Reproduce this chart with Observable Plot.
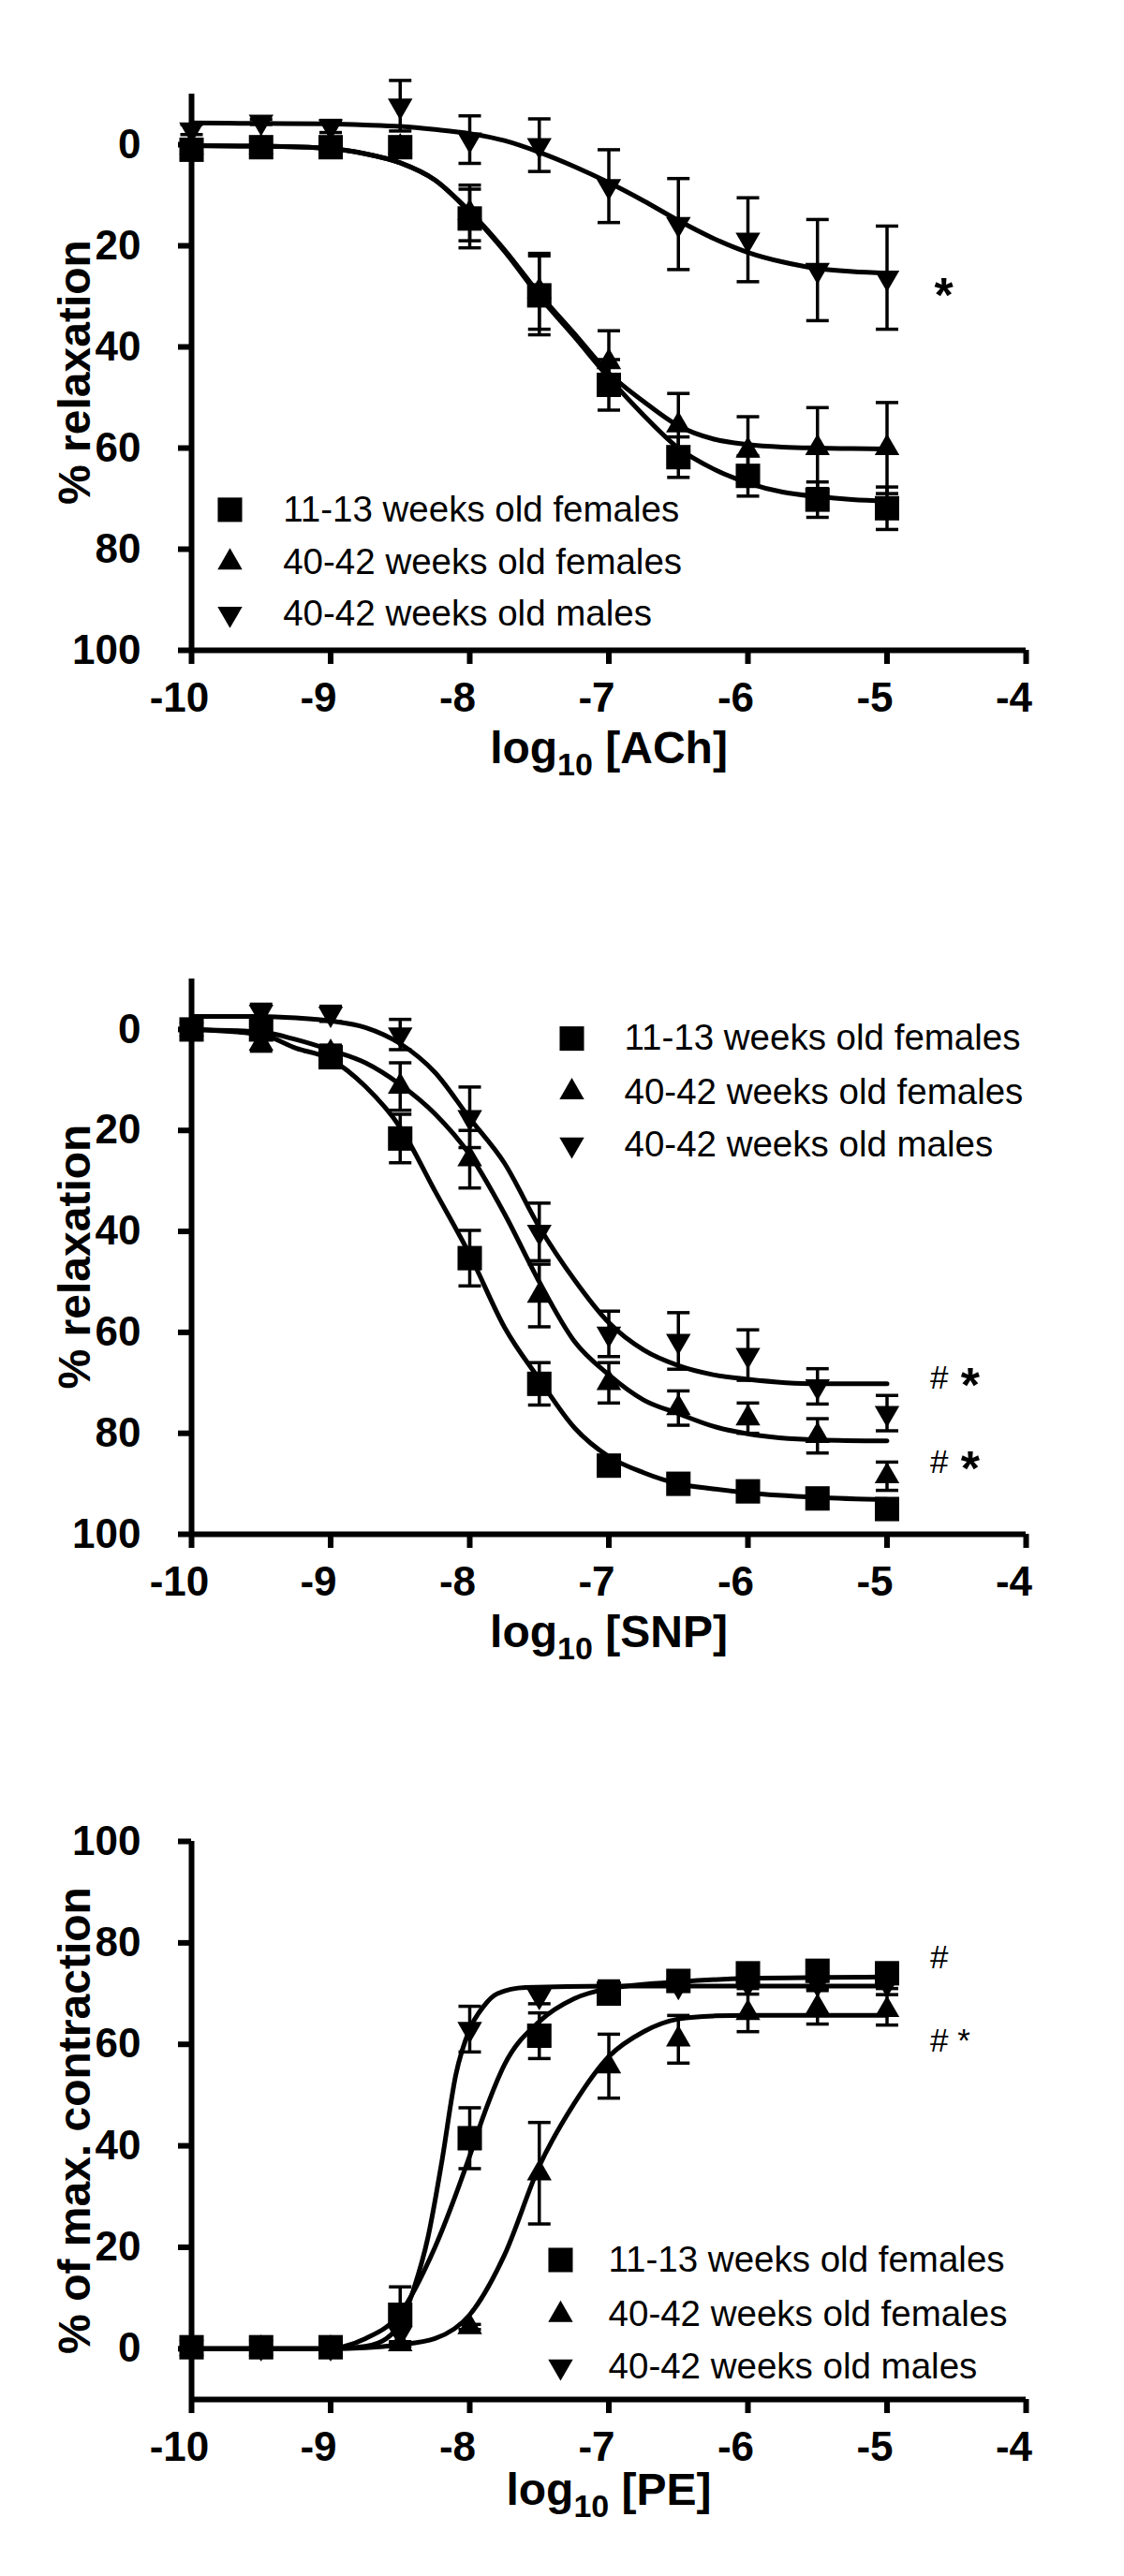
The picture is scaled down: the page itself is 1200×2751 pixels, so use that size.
<!DOCTYPE html>
<html><head><meta charset="utf-8">
<script src="https://cdn.jsdelivr.net/npm/d3@7"></script>
<script src="https://cdn.jsdelivr.net/npm/@observablehq/plot@0.6"></script>
<style>
html,body{margin:0;padding:0;background:#fff;}
#chart svg{display:block;}
</style>
</head><body><div id="chart"></div>
<script>
// ---------- shared ----------
const logConc = [-10, -9.5, -9, -8.5, -8, -7.5, -7, -6.5, -6, -5.5, -5];
const groups = ["11-13 weeks old females", "40-42 weeks old females", "40-42 weeks old males"];
const xTicks = [-10, -9, -8, -7, -6, -5, -4];
const yTicks = [0, 20, 40, 60, 80, 100];

// ---------- ACh (relaxation) ----------
const achYoungFemMean = [1, 0.5, 0.5, 0.5, 14.6, 29.8, 47.5, 61.8, 65.5, 70.2, 71.9];
const achYoungFemSem  = [0.5, 0.5, 0.5, 1, 5.8, 7.8, 5, 4, 4, 3.5, 4.2];
const achOldFemMean   = [0.5, 0.5, 0.5, 0.5, 13.5, 29, 43, 55.5, 60.5, 60, 60];
const achOldFemSem    = [0.5, 0.5, 0.5, 0.5, 5.5, 7.5, 6.2, 6.3, 6.7, 8, 9];
const achOldMaleMean  = [-3, -4.5, -3.6, -7.7, -1, 0.1, 8.2, 15.7, 18.8, 24.8, 26.3];
const achOldMaleSem   = [1, 0.5, 1.2, 5, 4.7, 5.2, 7.2, 9, 8.3, 10, 10.2];
const achFitX         = [-10, -9.5, -9, -8.75, -8.5, -8.25, -8, -7.75, -7.5, -7.25, -7, -6.75, -6.5, -6.25, -6, -5.75, -5.5, -5.25, -5];
const achFitYoungFem  = [0.2, 0.3, 0.8, 1.8, 3.6, 7, 13.4, 21.1, 30, 37.9, 46.1, 53.5, 60, 64.1, 66.9, 68.7, 69.6, 70.2, 70.5];
const achFitOldFem    = [0.2, 0.3, 0.8, 1.8, 3.6, 7, 13.2, 20.8, 29.5, 37.3, 45.2, 50.8, 55.6, 58.2, 59.3, 59.8, 60, 60.1, 60.2];
const achFitOldMale   = [-4.3, -4.2, -4.1, -3.9, -3.6, -3.0, -2.2, -0.8, 1.5, 4.3, 7.5, 11.1, 15, 18.5, 21.3, 23.2, 24.5, 25.1, 25.4];

// ---------- SNP (relaxation) ----------
const snpYoungFemMean = [0, 0, 5.5, 21.6, 45.3, 70.2, 86.4, 90, 91.5, 92.9, 95];
const snpYoungFemSem  = [0.5, 0.5, 1, 4.8, 5.5, 4.2, 1.5, 1, 1, 1, 1];
const snpOldFemMean   = [0, 2.8, 4.6, 11.3, 25.7, 52.7, 70, 75, 77, 80.5, 88.5];
const snpOldFemSem    = [0.5, 1.5, 1.5, 4.7, 5.7, 6.2, 4, 3.4, 3, 3.4, 2.8];
const snpOldMaleMean  = [0, -3.5, -3.1, 1, 17.4, 40.1, 60.3, 61.7, 64.5, 70.7, 76];
const snpOldMaleSem   = [0.5, 1.5, 1.5, 3, 6, 5.7, 4.5, 5.6, 5, 3.5, 3.5];
const snpFitX         = [-10, -9.5, -9.25, -9, -8.75, -8.5, -8.25, -8, -7.75, -7.5, -7.25, -7, -6.75, -6.5, -6.25, -6, -5.5, -5];
const snpFitYoungFem  = [0, 1, 3.7, 5.9, 11.3, 19.4, 32, 44.6, 59, 69.3, 78.8, 84.6, 87.8, 90, 91, 91.8, 92.7, 93.1];
const snpFitOldFem    = [0, 0.5, 2, 4.1, 6.6, 10.9, 16.7, 24.8, 36.5, 50, 61.7, 68.4, 73.4, 76.1, 78.6, 80.1, 81.3, 81.5];
const snpFitOldMale   = [-2.6, -2.6, -2.3, -1.7, -0.4, 2.8, 8.5, 17.6, 26.5, 39.1, 49.5, 58.1, 63.5, 66.6, 68.4, 69.3, 70.2, 70.2];

// ---------- PE (contraction) ----------
const peYoungFemMean = [0.3, 0.3, 0.3, 6.7, 41.5, 61.7, 70, 72.5, 74, 74.5, 74];
const peYoungFemSem  = [0.5, 0.5, 0.5, 5.5, 6, 4.5, 1.5, 1.5, 1.5, 2, 2];
const peOldFemMean   = [0, 0, 0, 0.9, 4.3, 34.6, 55.7, 61, 66.2, 67.3, 66.8];
const peOldFemSem    = [0.5, 0.5, 0.5, 0.5, 0.5, 10, 6.3, 4.7, 3.7, 3.3, 3];
const peOldMaleMean  = [0.3, 0.3, 0.3, 3, 63, 69.5, 71, 71.5, 72, 72, 72];
const peOldMaleSem   = [0.5, 0.5, 0.5, 2, 4.5, 1.5, 1.5, 1, 1, 1, 1];
const peFitYoungFemX = [-10, -9, -8.9, -8.75, -8.5, -8.25, -8, -7.9, -7.75, -7.5, -7.25, -7, -6.5, -6, -5];
const peFitYoungFem  = [0, 0, 0.5, 2, 7, 20, 38, 46, 56, 64.5, 69, 71, 72.3, 73, 73.3];
const peFitOldFemX   = [-10, -9, -8.5, -8.25, -8, -7.75, -7.5, -7.25, -7, -6.75, -6.5, -6.25, -6, -5];
const peFitOldFem    = [0, 0, 0.8, 2, 6.7, 18.5, 36, 48.3, 57.6, 62.5, 65, 65.6, 65.7, 65.7];
const peFitOldMaleX  = [-10, -9, -8.75, -8.6, -8.5, -8.4, -8.3, -8.2, -8.1, -8, -7.9, -7.8, -7.6, -7, -5];
const peFitOldMale   = [0, 0, 0.5, 2, 5, 12, 22, 37, 54, 63, 67.5, 70, 71.2, 71.5, 71.5];

// ---------- helpers ----------
const pts = (mean, sem) => logConc.map((x, i) => ({x, m: mean[i], s: sem[i]}));
const fit = (xs, ys) => xs.map((x, i) => ({x, y: ys[i]}));
const capSymbol = {draw(ctx, size) { const h = Math.sqrt(size / Math.PI); ctx.moveTo(-h, 0); ctx.lineTo(h, 0); }};
const markerStyles = [
  {symbol: "square", r: 14.7},
  {symbol: "triangle", r: 9.8},
  {symbol: "triangle", r: 9.8, rotate: 180}
];
const FONT = "'Liberation Sans', Arial, Helvetica, sans-serif";

function makePanel(cfg) {
  const base = cfg.reverse ? 100 : -10;
  const marks = [];
  // fitted curves
  for (const f of cfg.fits) {
    marks.push(Plot.line(f, {x: "x", y: "y", curve: "monotone-x", stroke: "black", strokeWidth: 5}));
  }
  // error bars
  cfg.series.forEach((s) => {
    marks.push(Plot.ruleX(s, {x: "x", y1: d => d.m - d.s, y2: d => d.m + d.s, stroke: "black", strokeWidth: 3.5}));
    marks.push(Plot.dot(s, {x: "x", y: d => d.m + d.s, symbol: capSymbol, r: 12, stroke: "black", strokeWidth: 3.5, fill: "none"}));
    marks.push(Plot.dot(s, {x: "x", y: d => d.m - d.s, symbol: capSymbol, r: 12, stroke: "black", strokeWidth: 3.5, fill: "none"}));
  });
  // markers
  cfg.series.forEach((s, k) => {
    marks.push(Plot.dot(s, {x: "x", y: "m", fill: "black", ...markerStyles[k]}));
  });
  // legend
  groups.forEach((g, k) => {
    marks.push(Plot.dot([g], {x: cfg.legend.markerX, y: cfg.legend.rows[k], fill: "black", ...markerStyles[k]}));
  });
  marks.push(Plot.text(groups, {x: cfg.legend.textX, y: (d, i) => cfg.legend.rows[i], text: d => d,
    textAnchor: "start", fontSize: 38.5, fill: "black"}));
  // significance notes
  for (const n of cfg.notes) {
    marks.push(Plot.text([n.t], {x: n.x, y: n.y, text: d => d, textAnchor: "start", lineAnchor: "bottom",
      fontSize: n.size, fontWeight: n.bold ? "bold" : "normal", fill: "black"}));
  }
  // axes
  marks.push(Plot.ruleX([-10], {y1: -10, y2: 100, stroke: "black", strokeWidth: 6}));
  marks.push(Plot.ruleY([base], {x1: -10, x2: -4, stroke: "black", strokeWidth: 6}));
  marks.push(Plot.axisX(xTicks, {tickSize: 15, strokeWidth: 6, stroke: "black", fill: "none", label: null, tickFormat: d => String(d)}));
  marks.push(Plot.axisX(xTicks, {tickSize: 15, tickPadding: 19, stroke: "none", fill: "black", fontSize: 44, fontWeight: "bold", dx: -13, label: null, tickFormat: d => String(d)}));
  marks.push(Plot.axisY(yTicks, {tickSize: 14, tickPadding: 40, strokeWidth: 6, stroke: "black", fill: "black", fontSize: 44, fontWeight: "bold", label: null, tickFormat: d => String(d)}));
  // axis titles
  marks.push(Plot.text([cfg.yLabel], {frameAnchor: "left", text: d => d, rotate: -90, dx: -109, textAnchor: "middle", lineAnchor: "bottom",
    fontSize: 48, fontWeight: "bold", fill: "black"}));
  marks.push(Plot.text([cfg.xLabel], {frameAnchor: "bottom", text: d => d, dy: cfg.xTitleOffset, textAnchor: "middle", lineAnchor: "bottom",
    fontSize: 48, fontWeight: "bold", fill: "black"}));

  const svg = Plot.plot({
    width: 1200, height: cfg.height,
    marginLeft: 204, marginRight: 105, marginTop: cfg.marginTop, marginBottom: cfg.marginBottom,
    x: {domain: [-10, -4]},
    y: {domain: [-10, 100], reverse: cfg.reverse},
    style: {fontFamily: FONT, background: "white", color: "black", overflow: "visible"},
    marks
  });
  // subscript in "log10 [...]"
  svg.querySelectorAll("text").forEach(t => {
    const m = /^log10 (.*)$/.exec(t.textContent);
    if (!m) return;
    const NS = "http://www.w3.org/2000/svg";
    t.textContent = "";
    const a = document.createElementNS(NS, "tspan"); a.textContent = "log"; t.appendChild(a);
    const b = document.createElementNS(NS, "tspan"); b.textContent = "10"; b.setAttribute("font-size", "34"); b.setAttribute("dy", "13"); t.appendChild(b);
    const c = document.createElementNS(NS, "tspan"); c.textContent = " " + m[1]; c.setAttribute("dy", "-13"); t.appendChild(c);
  });
  return svg;
}

const panels = [
  {
    height: 920, marginTop: 100, marginBottom: 226, reverse: true, xTitleOffset: 120,
    yLabel: "% relaxation", xLabel: "log10 [ACh]",
    series: [pts(achYoungFemMean, achYoungFemSem), pts(achOldFemMean, achOldFemSem), pts(achOldMaleMean, achOldMaleSem)],
    fits: [fit(achFitX, achFitYoungFem), fit(achFitX, achFitOldFem), fit(achFitX, achFitOldMale)],
    legend: {markerX: -9.724, textX: -9.342, rows: [72.2, 82.6, 92.8]},
    notes: [{t: "*", x: -4.66, y: 33, size: 52, bold: true}]
  },
  {
    height: 920, marginTop: 125, marginBottom: 202, reverse: true, xTitleOffset: 120,
    yLabel: "% relaxation", xLabel: "log10 [SNP]",
    series: [pts(snpYoungFemMean, snpYoungFemSem), pts(snpOldFemMean, snpOldFemSem), pts(snpOldMaleMean, snpOldMaleSem)],
    fits: [fit(snpFitX, snpFitYoungFem), fit(snpFitX, snpFitOldFem), fit(snpFitX, snpFitOldMale)],
    legend: {markerX: -7.266, textX: -6.889, rows: [1.8, 12.4, 22.8]},
    notes: [
      {t: "#", x: -4.69, y: 71.2, size: 35, bold: false},
      {t: "*", x: -4.47, y: 73.8, size: 52, bold: true},
      {t: "#", x: -4.69, y: 87.8, size: 35, bold: false},
      {t: "*", x: -4.47, y: 90.2, size: 52, bold: true}
    ]
  },
  {
    height: 911, marginTop: 126, marginBottom: 189, reverse: false, xTitleOffset: 112,
    yLabel: "% of max. contraction", xLabel: "log10 [PE]",
    series: [pts(peYoungFemMean, peYoungFemSem), pts(peOldFemMean, peOldFemSem), pts(peOldMaleMean, peOldMaleSem)],
    fits: [fit(peFitYoungFemX, peFitYoungFem), fit(peFitOldFemX, peFitOldFem), fit(peFitOldMaleX, peFitOldMale)],
    legend: {markerX: -7.347, textX: -7.003, rows: [17.5, 6.7, -3.5]},
    notes: [
      {t: "#", x: -4.69, y: 74.9, size: 35, bold: false},
      {t: "# *", x: -4.69, y: 58.6, size: 35, bold: false}
    ]
  }
];

const root = document.getElementById("chart");
for (const p of panels) root.appendChild(makePanel(p));
</script>
</body></html>
